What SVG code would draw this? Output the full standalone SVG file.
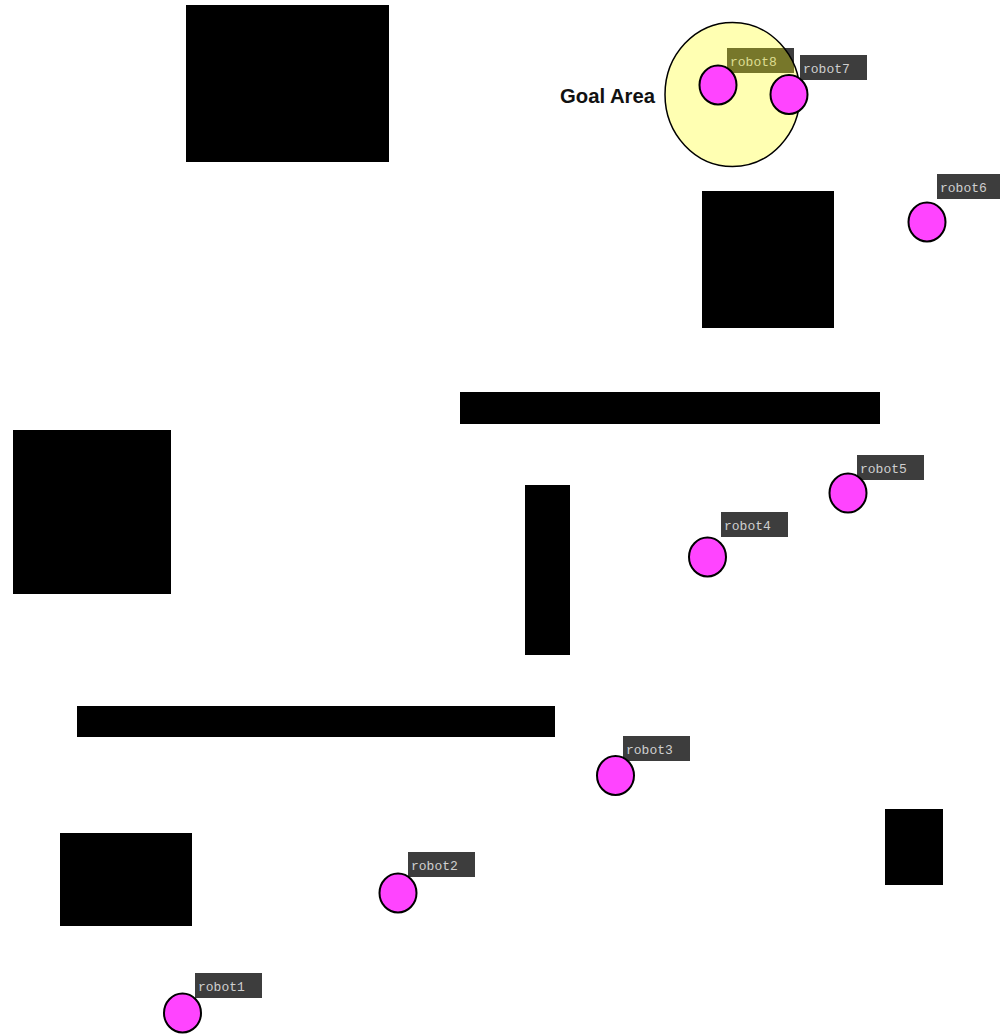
<svg xmlns="http://www.w3.org/2000/svg" width="1000" height="1034" viewBox="0 0 1000 1034">
<style>
.obs{fill:#000}
.lbl rect{fill:#000;fill-opacity:0.76}
.lbl text{font-family:"Liberation Mono","DejaVu Sans Mono",monospace;font-size:13px;fill:#cfcfcf}
.robot{fill:#ff44ff;stroke:#000;stroke-width:2}
.goal{fill:#ffff00;fill-opacity:0.3;stroke:#000;stroke-width:1.5}
.goaltxt{font-family:"Liberation Sans",Arial,sans-serif;font-weight:bold;font-size:20px;fill:#111}
</style>
<rect width="1000" height="1034" fill="#fff"/>
<g id="obstacles">
<rect id="obstacle1" class="obs" x="186" y="5" width="203" height="157"/>
<rect id="obstacle2" class="obs" x="702" y="191" width="132" height="137"/>
<rect id="obstacle3" class="obs" x="13" y="430" width="158" height="164"/>
<rect id="obstacle4" class="obs" x="460" y="392" width="420" height="32"/>
<rect id="obstacle5" class="obs" x="525" y="485" width="45" height="170"/>
<rect id="obstacle6" class="obs" x="77" y="706" width="478" height="31"/>
<rect id="obstacle7" class="obs" x="60" y="833" width="132" height="93"/>
<rect id="obstacle8" class="obs" x="885" y="809" width="58" height="76"/>
</g>
<g id="labels">
<g id="robot1-label" class="lbl"><rect x="195" y="973" width="67" height="25"/><text x="198" y="991">robot1</text></g>
<g id="robot2-label" class="lbl"><rect x="408" y="852" width="67" height="25"/><text x="411" y="870">robot2</text></g>
<g id="robot3-label" class="lbl"><rect x="623" y="736" width="67" height="25"/><text x="626" y="754">robot3</text></g>
<g id="robot4-label" class="lbl"><rect x="721" y="512" width="67" height="25"/><text x="724" y="530">robot4</text></g>
<g id="robot5-label" class="lbl"><rect x="857" y="455" width="67" height="25"/><text x="860" y="473">robot5</text></g>
<g id="robot6-label" class="lbl"><rect x="937" y="174" width="67" height="25"/><text x="940" y="192">robot6</text></g>
<g id="robot7-label" class="lbl"><rect x="800" y="55" width="67" height="25"/><text x="803" y="73">robot7</text></g>
<g id="robot8-label" class="lbl"><rect x="727" y="48" width="67" height="25"/><text x="730" y="66">robot8</text></g>
</g>
<g id="goal">
<ellipse class="goal" cx="732.5" cy="94.5" rx="67.5" ry="72"/>
<text class="goaltxt" x="655" y="103" text-anchor="end" textLength="95" lengthAdjust="spacingAndGlyphs">Goal Area</text>
</g>
<g id="robots">
<g id="robot1"><ellipse class="robot" cx="182.5" cy="1013" rx="18.5" ry="19.5"/></g>
<g id="robot2"><ellipse class="robot" cx="398" cy="893" rx="18.5" ry="19.5"/></g>
<g id="robot3"><ellipse class="robot" cx="615.5" cy="775.5" rx="18.5" ry="19.5"/></g>
<g id="robot4"><ellipse class="robot" cx="707.5" cy="557" rx="18.5" ry="19.5"/></g>
<g id="robot5"><ellipse class="robot" cx="848" cy="493" rx="18.5" ry="19.5"/></g>
<g id="robot6"><ellipse class="robot" cx="927" cy="222" rx="18.5" ry="19.5"/></g>
<g id="robot7"><ellipse class="robot" cx="789" cy="94.5" rx="18.5" ry="19.5"/></g>
<g id="robot8"><ellipse class="robot" cx="718" cy="85" rx="18.5" ry="19.5"/></g>
</g>
</svg>
